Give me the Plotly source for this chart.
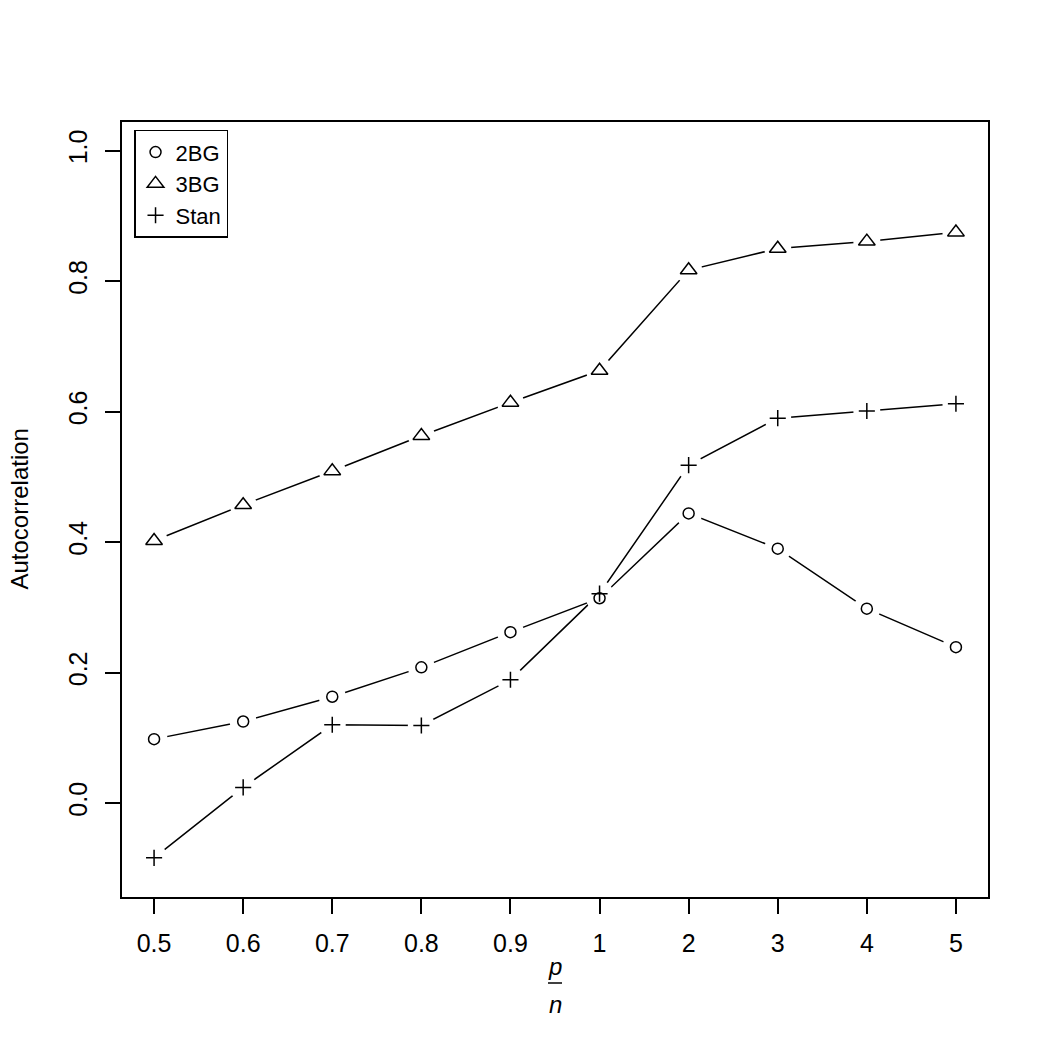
import plotly.graph_objects as go

categories = ["0.5", "0.6", "0.7", "0.8", "0.9", "1", "2", "3", "4", "5"]
bg2 = [0.098, 0.125, 0.163, 0.208, 0.262, 0.314, 0.444, 0.390, 0.298, 0.239]
bg3 = [0.402, 0.457, 0.509, 0.563, 0.614, 0.663, 0.817, 0.850, 0.861, 0.875]
stan = [-0.084, 0.024, 0.120, 0.119, 0.189, 0.321, 0.518, 0.590, 0.601, 0.612]
ytick_vals = [0.0, 0.2, 0.4, 0.6, 0.8, 1.0]
ytick_text = ["0.0", "0.2", "0.4", "0.6", "0.8", "1.0"]

series = [
    ("2BG", bg2, "circle-open", 11),
    ("3BG", bg3, "triangle-up-open", 14.5),
    ("Stan", stan, "cross-thin-open", 11.5),
]

FONT = "Liberation Sans, Arial, Helvetica, sans-serif"

fig = go.Figure()
# connecting lines
for name, vals, sym, sz in series:
    fig.add_trace(go.Scatter(x=categories, y=vals, mode="lines",
                             line=dict(color="black", width=1.5),
                             showlegend=False, hoverinfo="skip"))
# white discs to create type="b" gaps
for name, vals, sym, sz in series:
    fig.add_trace(go.Scatter(x=categories, y=vals, mode="markers",
                             marker=dict(symbol="circle", size=27, color="white",
                                         line=dict(width=0)),
                             showlegend=False, hoverinfo="skip"))
# point symbols
for name, vals, sym, sz in series:
    fig.add_trace(go.Scatter(x=categories, y=vals, mode="markers", name=name,
                             marker=dict(symbol=sym, size=sz, color="black",
                                         line=dict(color="black", width=1.5))))

fig.update_layout(
    width=1050, height=1050,
    margin=dict(l=122, r=62, t=122, b=153),
    paper_bgcolor="white", plot_bgcolor="white",
    font=dict(family=FONT, size=24, color="black"),
    showlegend=True,
    legend=dict(x=0.0139, y=0.99, xanchor="left", yanchor="top",
                bordercolor="black", borderwidth=1.5, bgcolor="white",
                font=dict(size=22, family=FONT), tracegroupgap=0,
                itemsizing="trace"),
    xaxis=dict(type="category", categoryorder="array", categoryarray=categories,
               range=[-0.36, 9.36], showgrid=False, zeroline=False,
               showline=True, linecolor="black", linewidth=1.5, mirror=True,
               ticks="outside", ticklen=15, tickwidth=1.5, tickcolor="black",
               ticklabelstandoff=8,
               tickfont=dict(size=25, family=FONT)),
    yaxis=dict(range=[-0.144, 1.044], showgrid=False, zeroline=False,
               showline=True, linecolor="black", linewidth=1.5, mirror=True,
               ticks="outside", ticklen=15, tickwidth=1.5, tickcolor="black",
               tickvals=ytick_vals, ticktext=ytick_text, tickangle=-90,
               ticklabelstandoff=8,
               tickfont=dict(size=25, family=FONT)),
)

fig.add_annotation(text="Autocorrelation", xref="paper", yref="paper",
                   x=(19 - 122) / 866, y=0.5, xanchor="center", yanchor="middle",
                   textangle=-90, showarrow=False, font=dict(size=24, family=FONT))
fig.add_annotation(text="<i>p</i>", xref="paper", yref="paper",
                   x=0.5, y=-(966 - 897) / 775, xanchor="center", yanchor="middle",
                   showarrow=False, font=dict(size=24, family=FONT))
fig.add_annotation(text="<i>n</i>", xref="paper", yref="paper",
                   x=0.5, y=-(1004 - 897) / 775, xanchor="center", yanchor="middle",
                   showarrow=False, font=dict(size=24, family=FONT))
fig.add_shape(type="line", xref="paper", yref="paper",
              x0=0.5 - 7 / 866, x1=0.5 + 7 / 866,
              y0=-(983 - 897) / 775, y1=-(983 - 897) / 775,
              line=dict(color="black", width=1.5))

fig.write_html("out.html")
